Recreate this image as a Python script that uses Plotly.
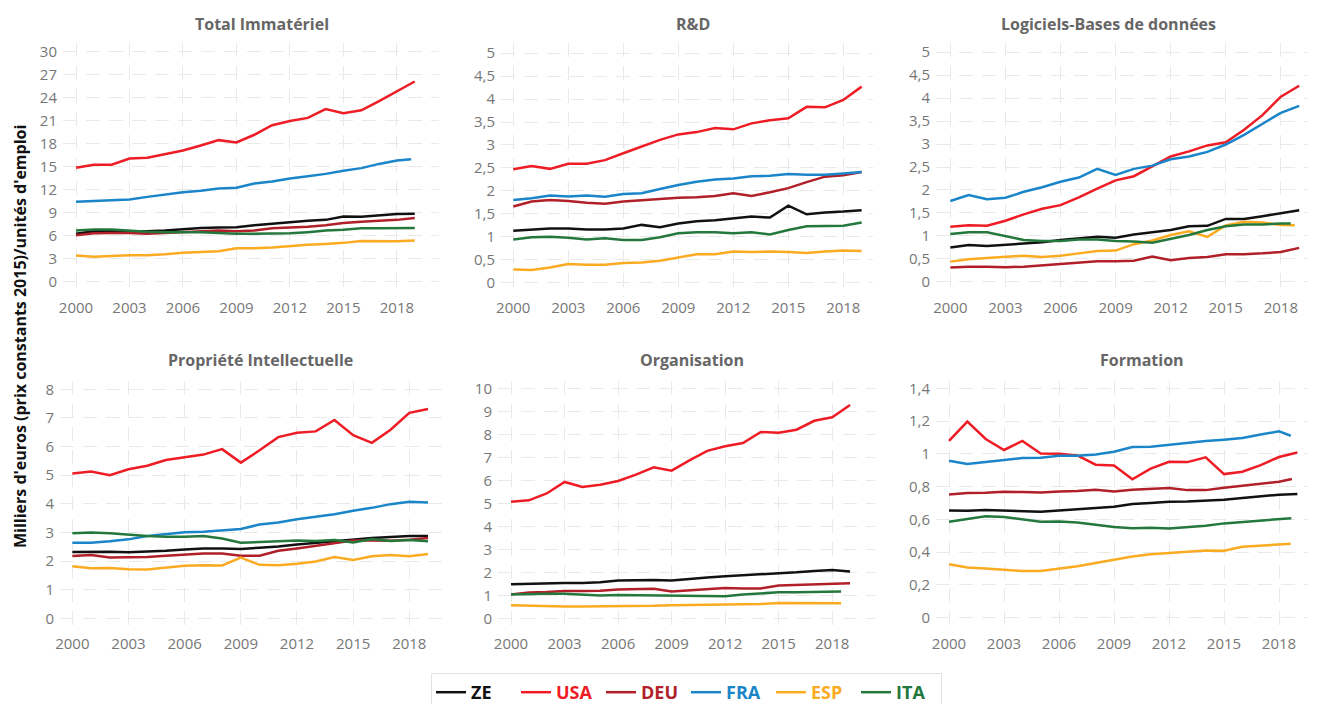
import plotly.graph_objects as go

# Intangible investment per employee, thousands of euros (constant 2015 prices)
YEARS = list(range(2000, 2020))
COUNTRIES = ["ZE", "USA", "DEU", "FRA", "ESP", "ITA"]
COLORS = {"ZE": "#111111", "USA": "#ee1c25", "DEU": "#b11f29",
          "FRA": "#1a85c9", "ESP": "#fbab22", "ITA": "#24783b"}

TOTAL = {
    "ZE": [6.3, 6.6, 6.6, 6.6, 6.6, 6.7, 6.85, 7.05, 7.1, 7.15, 7.4, 7.6, 7.8, 8.0, 8.1, 8.55, 8.5, 8.7, 8.85, 8.9],
    "USA": [14.9, 15.3, 15.3, 16.1, 16.2, 16.7, 17.15, 17.8, 18.5, 18.2, 19.2, 20.45, 21.0, 21.4, 22.55, 22.0, 22.4, 23.6, 24.9, 26.15],
    "DEU": [6.1, 6.35, 6.4, 6.4, 6.3, 6.4, 6.5, 6.6, 6.7, 6.6, 6.7, 7.0, 7.1, 7.2, 7.4, 7.7, 7.85, 8.0, 8.1, 8.35],
    "FRA": [10.45, 10.55, 10.6, 10.75, 11.1, 11.4, 11.7, 11.9, 12.2, 12.3, 12.85, 13.1, 13.5, 13.8, 14.1, 14.5, 14.85, 15.4, 15.85, 16.0],
    "ESP": [3.45, 3.3, 3.4, 3.5, 3.5, 3.6, 3.8, 3.9, 4.0, 4.4, 4.4, 4.5, 4.7, 4.85, 4.95, 5.1, 5.35, 5.35, 5.3, 5.4],
    "ITA": [6.7, 6.85, 6.85, 6.7, 6.55, 6.5, 6.5, 6.5, 6.4, 6.3, 6.3, 6.3, 6.35, 6.5, 6.7, 6.8, 7.0, 7.0, 7.05, 7.05],
}
RD = {
    "ZE": [1.13, 1.16, 1.18, 1.18, 1.16, 1.16, 1.18, 1.26, 1.21, 1.29, 1.34, 1.36, 1.40, 1.44, 1.42, 1.68, 1.49, 1.53, 1.55, 1.58],
    "USA": [2.47, 2.54, 2.48, 2.59, 2.59, 2.67, 2.82, 2.97, 3.11, 3.23, 3.28, 3.37, 3.34, 3.47, 3.54, 3.58, 3.83, 3.82, 3.98, 4.27],
    "DEU": [1.66, 1.77, 1.80, 1.78, 1.74, 1.72, 1.77, 1.80, 1.83, 1.85, 1.86, 1.89, 1.95, 1.89, 1.97, 2.06, 2.19, 2.31, 2.34, 2.41],
    "FRA": [1.80, 1.84, 1.90, 1.88, 1.90, 1.875, 1.93, 1.95, 2.04, 2.13, 2.20, 2.25, 2.27, 2.32, 2.33, 2.37, 2.35, 2.35, 2.38, 2.41],
    "ESP": [0.29, 0.28, 0.33, 0.41, 0.39, 0.39, 0.43, 0.44, 0.48, 0.55, 0.62, 0.62, 0.68, 0.67, 0.68, 0.67, 0.65, 0.68, 0.70, 0.69],
    "ITA": [0.94, 0.99, 1.00, 0.98, 0.94, 0.97, 0.93, 0.93, 0.99, 1.08, 1.10, 1.10, 1.08, 1.10, 1.05, 1.15, 1.23, 1.24, 1.24, 1.31],
}
LOGICIELS = {
    "ZE": [0.75, 0.80, 0.78, 0.81, 0.83, 0.86, 0.91, 0.95, 0.98, 0.96, 1.03, 1.08, 1.13, 1.21, 1.22, 1.37, 1.37, 1.43, 1.49, 1.56],
    "USA": [1.20, 1.23, 1.22, 1.33, 1.47, 1.59, 1.67, 1.84, 2.03, 2.21, 2.30, 2.52, 2.73, 2.84, 2.97, 3.04, 3.31, 3.63, 4.03, 4.27],
    "DEU": [0.31, 0.33, 0.33, 0.32, 0.33, 0.36, 0.40, 0.42, 0.45, 0.45, 0.46, 0.55, 0.47, 0.52, 0.54, 0.60, 0.60, 0.62, 0.65, 0.74],
    "FRA": [1.76, 1.89, 1.80, 1.83, 1.96, 2.06, 2.18, 2.27, 2.46, 2.33, 2.46, 2.53, 2.67, 2.73, 2.83, 2.99, 3.20, 3.44, 3.68, 3.83],
    "ESP": [0.44, 0.49, 0.52, 0.55, 0.57, 0.54, 0.57, 0.62, 0.67, 0.68, 0.82, 0.90, 1.02, 1.10, 0.98, 1.23, 1.31, 1.29, 1.24, 1.23],
    "ITA": [1.04, 1.08, 1.08, 1.00, 0.91, 0.89, 0.89, 0.92, 0.92, 0.89, 0.88, 0.85, 0.93, 1.02, 1.13, 1.21, 1.25, 1.25, 1.27, 1.27],
}
PROPRIETE = {
    "ZE": [2.32, 2.33, 2.33, 2.31, 2.33, 2.36, 2.41, 2.44, 2.44, 2.42, 2.47, 2.51, 2.58, 2.64, 2.71, 2.76, 2.81, 2.84, 2.88, 2.88],
    "USA": [5.06, 5.13, 5.00, 5.21, 5.33, 5.53, 5.63, 5.72, 5.91, 5.44, 5.87, 6.33, 6.48, 6.53, 6.93, 6.40, 6.13, 6.59, 7.18, 7.31],
    "DEU": [2.18, 2.21, 2.13, 2.13, 2.14, 2.19, 2.24, 2.27, 2.27, 2.19, 2.19, 2.36, 2.44, 2.54, 2.63, 2.72, 2.72, 2.71, 2.75, 2.81],
    "FRA": [2.64, 2.64, 2.69, 2.76, 2.88, 2.95, 3.01, 3.03, 3.07, 3.12, 3.28, 3.35, 3.46, 3.55, 3.64, 3.76, 3.86, 3.99, 4.07, 4.05],
    "ESP": [1.82, 1.75, 1.76, 1.72, 1.71, 1.78, 1.84, 1.86, 1.85, 2.12, 1.87, 1.86, 1.91, 1.99, 2.14, 2.04, 2.17, 2.21, 2.17, 2.25],
    "ITA": [2.97, 3.00, 2.97, 2.92, 2.88, 2.85, 2.85, 2.88, 2.79, 2.64, 2.67, 2.70, 2.72, 2.70, 2.74, 2.65, 2.77, 2.70, 2.74, 2.69],
}
ORGANISATION = {
    "ZE": [1.48, 1.51, 1.52, 1.54, 1.54, 1.57, 1.64, 1.67, 1.67, 1.64, 1.72, 1.77, 1.83, 1.87, 1.90, 1.97, 2.00, 2.06, 2.10, 2.04],
    "USA": [5.07, 5.13, 5.43, 5.93, 5.71, 5.81, 5.97, 6.25, 6.57, 6.42, 6.87, 7.28, 7.48, 7.62, 8.10, 8.07, 8.20, 8.59, 8.74, 9.28],
    "DEU": [1.04, 1.12, 1.14, 1.19, 1.19, 1.20, 1.25, 1.28, 1.28, 1.17, 1.23, 1.29, 1.32, 1.29, 1.30, 1.43, 1.45, 1.48, 1.49, 1.52],
    "ESP": [0.57, 0.54, 0.52, 0.51, 0.51, 0.51, 0.52, 0.52, 0.54, 0.57, 0.58, 0.58, 0.58, 0.59, 0.62, 0.67, 0.67, 0.65, 0.65, 0.65],
    "ITA": [1.03, 1.06, 1.07, 1.07, 1.03, 0.99, 1.01, 1.00, 0.99, 0.99, 1.00, 0.96, 0.96, 1.03, 1.09, 1.13, 1.13, 1.14, 1.17, 1.17],
}
FORMATION = {
    "ZE": [0.655, 0.653, 0.657, 0.655, 0.651, 0.647, 0.655, 0.661, 0.670, 0.678, 0.694, 0.700, 0.708, 0.710, 0.714, 0.720, 0.731, 0.741, 0.751, 0.755],
    "USA": [1.079, 1.197, 1.091, 1.024, 1.079, 1.003, 1.001, 0.991, 0.934, 0.930, 0.845, 0.910, 0.952, 0.950, 0.979, 0.877, 0.891, 0.932, 0.981, 1.009],
    "DEU": [0.753, 0.761, 0.763, 0.769, 0.767, 0.765, 0.771, 0.773, 0.781, 0.771, 0.781, 0.788, 0.792, 0.779, 0.779, 0.794, 0.806, 0.816, 0.830, 0.847],
    "FRA": [0.958, 0.938, 0.950, 0.963, 0.975, 0.977, 0.989, 0.989, 0.997, 1.013, 1.042, 1.044, 1.056, 1.068, 1.079, 1.087, 1.097, 1.118, 1.138, 1.111],
    "ESP": [0.326, 0.307, 0.301, 0.291, 0.285, 0.285, 0.299, 0.315, 0.334, 0.352, 0.374, 0.387, 0.397, 0.403, 0.411, 0.409, 0.433, 0.440, 0.446, 0.452],
    "ITA": [0.586, 0.602, 0.619, 0.615, 0.600, 0.586, 0.588, 0.582, 0.568, 0.554, 0.547, 0.549, 0.545, 0.554, 0.562, 0.576, 0.584, 0.592, 0.600, 0.608],
}
# last observation falls before 2019 for some series
LAST_X = {
    ("total", "FRA"): 2018.8,
    ("logiciels", "ESP"): 2018.76, ("logiciels", "ITA"): 2018.54,
    ("organisation", "ESP"): 2018.5, ("organisation", "ITA"): 2018.5,
    ("formation", "FRA"): 2018.64, ("formation", "ESP"): 2018.64,
    ("formation", "ITA"): 2018.67, ("formation", "DEU"): 2018.7,
}

# page is 1318x704 but the body has an 8px margin, so the figure starts at (8, 8)
OFF = 8
W, H = 1318 - OFF, 704 - OFF
FONT = "Open Sans"


def px_x(p):
    return (p - OFF) / W


def px_y(p):
    return 1 - (p - OFF) / H


# key, title, data, x domain px, y domain px, x range, y range, y dtick, title pos px
panels = [
    ("total", "Total Immatériel", TOTAL, (63, 439), (43, 297), (1999.27, 2020.36), (-1.96, 31.17), 3, (262, 24)),
    ("rd", "R&D", RD, (501, 873), (43, 297), (1999.33, 2019.62), (-0.31, 5.22), 0.5, (693, 24)),
    ("logiciels", "Logiciels-Bases de données", LOGICIELS, (936, 1308), (43, 297), (1999.22, 2019.48), (-0.33, 5.2), 0.5, (1108, 24)),
    ("propriete", "Propriété Intellectuelle", PROPRIETE, (60, 443), (381, 633), (1999.34, 2019.8), (-0.51, 8.29), 1, (260, 360)),
    ("organisation", "Organisation", ORGANISATION, (498, 875), (381, 633), (1999.27, 2020.4), (-0.64, 10.32), 1, (692, 360)),
    ("formation", "Formation", FORMATION, (936, 1308), (381, 633), (1999.29, 2019.58), (-0.093, 1.445), 0.2, (1142, 360)),
]

fig = go.Figure()
annotations = []
for i, (key, title, data, xd, yd, xr, yr, dt, tp) in enumerate(panels):
    n = "" if i == 0 else str(i + 1)
    for c in COUNTRIES:
        if c not in data:
            continue
        xs = YEARS[:-1] + [LAST_X.get((key, c), 2019)]
        fig.add_trace(go.Scatter(
            x=xs, y=data[c], mode="lines",
            name=f"<b><span style='color:{COLORS[c]}'>{c}</span></b>",
            legendgroup=c, showlegend=(i == 0),
            line=dict(color=COLORS[c], width=2.5),
            xaxis="x" + n, yaxis="y" + n,
        ))
    grid = dict(showgrid=True, gridcolor="#e9e9e9", gridwidth=1, griddash="14px,9px",
                zeroline=False, showline=False, ticks="", automargin=False,
                tickfont=dict(family=FONT, size=15, color="#777777"))
    fig.layout["xaxis" + n] = dict(domain=[px_x(xd[0]), px_x(xd[1])], range=list(xr),
                                   tick0=2000, dtick=3, anchor="y" + n, **grid)
    fig.layout["yaxis" + n] = dict(domain=[px_y(yd[1]), px_y(yd[0])], range=list(yr),
                                   tick0=0, dtick=dt, anchor="x" + n, ticklabelstandoff=5, **grid)
    annotations.append(dict(
        text=f"<b>{title}</b>", x=px_x(tp[0]), y=px_y(tp[1]),
        xref="paper", yref="paper", showarrow=False, xanchor="center", yanchor="middle",
        font=dict(family=FONT, size=16, color="#666666"),
    ))

annotations.append(dict(
    text="<b>Milliers d'euros (prix constants 2015)/unités d'emploi</b>",
    x=px_x(20), y=px_y(337), xref="paper", yref="paper", showarrow=False,
    textangle=-90, xanchor="center", yanchor="middle",
    font=dict(family=FONT, size=16, color="#111111"),
))

fig.update_layout(
    width=W, height=H,
    margin=dict(l=0, r=0, t=0, b=0, autoexpand=False),
    paper_bgcolor="white", plot_bgcolor="white",
    separators=", ",
    font=dict(family=FONT),
    annotations=annotations,
    legend=dict(orientation="h", x=px_x(431), y=px_y(673), xanchor="left", yanchor="top",
                bgcolor="white", bordercolor="#e3e3e3", borderwidth=1,
                font=dict(family=FONT, size=18), itemwidth=30, tracegroupgap=0,
                entrywidth=40, entrywidthmode="pixels"),
)

fig.write_html("out.html")
